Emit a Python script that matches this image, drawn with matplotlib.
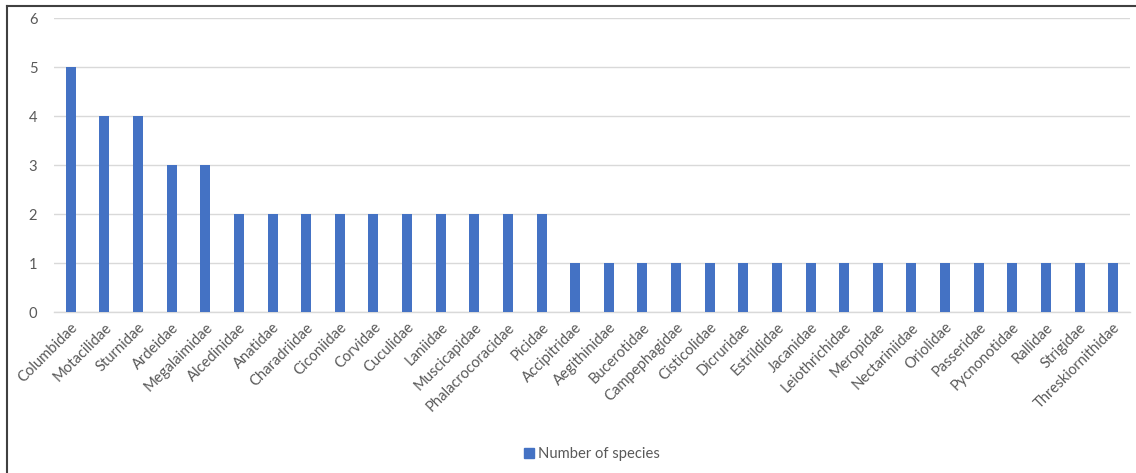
import matplotlib
matplotlib.use("Agg")
import matplotlib.pyplot as plt
from matplotlib.lines import Line2D

families = [
    "Columbidae", "Motacilidae", "Sturnidae", "Ardeidae", "Megalaimidae",
    "Alcedinidae", "Anatidae", "Charadriidae", "Ciconiidae", "Corvidae",
    "Cuculidae", "Laniidae", "Muscicapidae", "Phalacrocoracidae", "Picidae",
    "Accipitridae", "Aegithinidae", "Bucerotidae", "Campephagidae", "Cisticolidae",
    "Dicruridae", "Estrildidae", "Jacanidae", "Leiothrichidae", "Meropidae",
    "Nectariniidae", "Oriolidae", "Passeridae", "Pycnonotidae", "Rallidae",
    "Strigidae", "Threskiornithidae",
]
species_counts = [5, 4, 4, 3, 3,
                  2, 2, 2, 2, 2, 2, 2, 2, 2, 2,
                  1, 1, 1, 1, 1, 1, 1, 1, 1, 1, 1, 1, 1, 1, 1, 1, 1]
y_ticks = [0, 1, 2, 3, 4, 5, 6]
series_name = "Number of species"

plt.rcParams["font.family"] = ["Lato", "DejaVu Sans"]
text_color = "#595959"
bar_color = "#4472C4"
grid_color = "#D9D9D9"

W, H = 1136, 473
fig = plt.figure(figsize=(W / 100, H / 100), dpi=100)
ax = fig.add_axes([54 / W, 1 - 312 / H, (1130 - 54) / W, (312 - 18) / H])

x = list(range(len(families)))
ax.bar(x, species_counts, width=0.3, color=bar_color, zorder=3, label=series_name)

ax.set_xlim(-0.5, len(families) - 0.5)
ax.set_ylim(0, 6)
ax.set_yticks(y_ticks)
ax.set_yticklabels([str(v) for v in y_ticks])
ax.yaxis.grid(True, color=grid_color, linewidth=1, zorder=0)
ax.set_axisbelow(True)
for side in ["top", "right", "left"]:
    ax.spines[side].set_visible(False)
ax.spines["bottom"].set_color(grid_color)
ax.spines["bottom"].set_linewidth(1)

ax.set_xticks(x)
ax.set_xticklabels(families, rotation=45, ha="right", va="top",
                   rotation_mode="anchor", fontsize=10.6, color=text_color)
ax.tick_params(axis="x", length=0, pad=6)
ax.tick_params(axis="y", length=0, pad=12, labelsize=10.6, labelcolor=text_color)

handle = Line2D([], [], marker="s", linestyle="none", markersize=7,
                markerfacecolor=bar_color, markeredgecolor=bar_color)
fig.legend([handle], [series_name], loc="center", bbox_to_anchor=(591 / W, 1 - 454 / H),
           frameon=False, fontsize=10.6, labelcolor=text_color,
           handletextpad=0.1, handlelength=1.0)

# outer frame: top and left edges only
fig.add_artist(Line2D([7 / W, 1], [1 - 6 / H, 1 - 6 / H], transform=fig.transFigure,
                      color="#404040", linewidth=1.5))
fig.add_artist(Line2D([7 / W, 7 / W], [0, 1 - 6 / H], transform=fig.transFigure,
                      color="#404040", linewidth=1.5))

fig.savefig("out.png", dpi=100, facecolor="white")
